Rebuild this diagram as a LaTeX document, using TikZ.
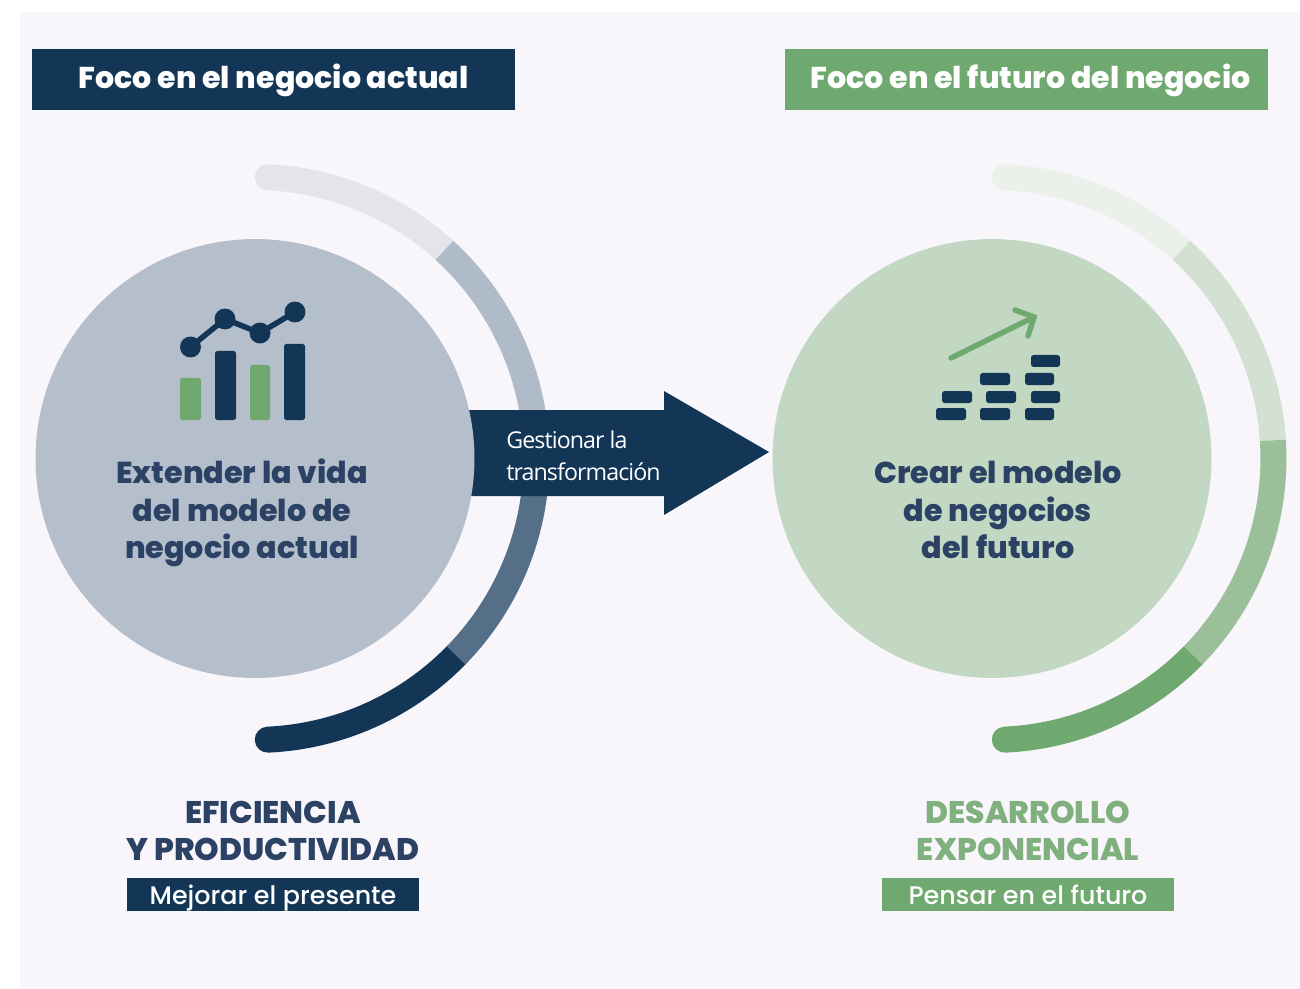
\documentclass[tikz,border=0pt]{standalone}
\usepackage{fontspec}
\setmainfont{Poppins}
\newfontfamily\opensans[LetterSpace=-4]{Open Sans}
\newfontfamily\gruesa{Poppins ExtraBold}
\newfontfamily\media{Poppins Medium}
\usepackage{tikz}
\usetikzlibrary{arrows,
                positioning}
\definecolor{navy}{HTML}{133657}
\definecolor{verde}{HTML}{70A96F}
\definecolor{fondo}{HTML}{F8F6FA}
\definecolor{circazul}{HTML}{B5BECB}
\definecolor{circverde}{HTML}{C3D8C2}
\definecolor{tinta}{HTML}{2B4265}
\definecolor{tintaverde}{HTML}{7FB07E}
\definecolor{azulA}{HTML}{E3E5EA}
\definecolor{azulB}{HTML}{AFBBC8}
\definecolor{azulC}{HTML}{566F88}
\definecolor{verdeA}{HTML}{EBF0EB}
\definecolor{verdeB}{HTML}{D2E1D1}
\definecolor{verdeC}{HTML}{9ABF99}

\begin{document}
\begin{tikzpicture}[x=0.02cm, y=-0.02cm]

\tikzstyle{header}=[rectangle, inner sep=0pt, minimum width=9.66cm, minimum height=1.22cm, text height=13pt, text depth=2.2pt, text=white, font=\gruesa\fontsize{17.1}{20}\selectfont]
\tikzstyle{disco}=[circle, inner sep=0pt, minimum size=8.78cm]
\tikzstyle{lema}=[align=center, font=\gruesa\fontsize{17.2}{21.3}\selectfont]
\tikzstyle{titulo}=[align=center, font=\gruesa\fontsize{17.8}{21.3}\selectfont]
\tikzstyle{etiqueta}=[rectangle, inner sep=0pt, minimum width=5.84cm, minimum height=0.66cm, text height=13pt, text depth=1.1pt, text=white, font=\media\fontsize{14.45}{16}\selectfont]
\tikzstyle{aro}=[line width=0.52cm]
\tikzstyle{arofin}=[line width=0.52cm, line cap=round]
\tikzstyle{barra}=[rounded corners=1pt]
\tikzstyle{ladrillo}=[fill=navy, rounded corners=1.5pt]

\useasboundingbox (0,0) rectangle (1300,989);
\fill[fondo] (20,12) rectangle (1300,989);

\coordinate (cI) at (255,458.5);
\coordinate (cD) at (992,458.5);

\draw[arofin, azulA] (cI) ++(87.4:5.63cm) arc[start angle=87.4, end angle=47.7, radius=5.63cm];
\draw[aro, azulB] (cI) ++(47.7:5.63cm) arc[start angle=47.7, end angle=3.7, radius=5.63cm];
\draw[arofin, navy] (cI) ++(-44.4:5.63cm) arc[start angle=-44.4, end angle=-87.4, radius=5.63cm];
\draw[aro, azulC] (cI) ++(3.7:5.63cm) arc[start angle=3.7, end angle=-44.4, radius=5.63cm];

\draw[arofin, verdeA] (cD) ++(87.4:5.63cm) arc[start angle=87.4, end angle=47.7, radius=5.63cm];
\draw[aro, verdeB] (cD) ++(47.7:5.63cm) arc[start angle=47.7, end angle=3.7, radius=5.63cm];
\draw[arofin, verde] (cD) ++(-44.4:5.63cm) arc[start angle=-44.4, end angle=-87.4, radius=5.63cm];
\draw[aro, verdeC] (cD) ++(3.7:5.63cm) arc[start angle=3.7, end angle=-44.4, radius=5.63cm];

\fill[navy] (cI |- 0,410) -- (664,410) -- (664,391) -- (769,452) -- (664,515) -- (664,496) -- (cI |- 0,496) -- cycle;

\node (discoI) [disco, fill=circazul] at (cI) {};
\node (discoD) [disco, fill=circverde] at (cD) {};

\node (focoI) [header, fill=navy] at (273.5,79.5) {Foco en el negocio actual};
\node (focoD) [header, fill=verde] at (1026.5,79.5) {\hspace*{0.16cm}Foco en el futuro del negocio};

\node (gestion) [text=white, align=left, anchor=west, inner sep=0pt, font=\opensans\fontsize{13.2}{18.2}\selectfont] at (506,456) {Gestionar la\\transformación};

\node (extender) [lema, text=tinta] at (242,513) {Extender la vida\\del modelo de\\negocio actual};
\node (crear) [lema, text=tinta] at (998,510) {Crear el modelo\\de negocios\\del futuro};

\node (eficiencia) [titulo, text=tinta] at (273,831) {EFICIENCIA\\Y PRODUCTIVIDAD};
\node (desarrollo) [titulo, text=tintaverde] at (1028,831) {DESARROLLO\\EXPONENCIAL};
\node (mejorar) [etiqueta, fill=navy] at (273,894.5) {Mejorar el presente};
\node (pensar) [etiqueta, fill=verde] at (1028,894.5) {Pensar en el futuro};

\fill[barra, verde] (180,378) rectangle (201,420);
\fill[barra, navy] (215,351) rectangle (236,420);
\fill[barra, verde] (250,365) rectangle (270,420);
\fill[barra, navy] (284,344) rectangle (305,420);
\draw[navy, line width=0.11cm] (190.5,347) -- (225,319) -- (260,333) -- (295,312);
\fill[navy] (190.5,347) circle (0.21cm);
\fill[navy] (225,319) circle (0.21cm);
\fill[navy] (260,333) circle (0.21cm);
\fill[navy] (295,312) circle (0.21cm);

\draw[verde, line width=0.11cm, line cap=round] (951,358) -- (1034,317);
\draw[verde, line width=0.11cm, line cap=round] (1015,310) -- (1034,317) -- (1028,336);
\fill[ladrillo] (936,408) rectangle (966,420);
\fill[ladrillo] (980,408) rectangle (1010,420);
\fill[ladrillo] (1025,408) rectangle (1054,420);
\fill[ladrillo] (942,391) rectangle (972,403);
\fill[ladrillo] (986,391) rectangle (1016,403);
\fill[ladrillo] (1031,391) rectangle (1060,403);
\fill[ladrillo] (980,373) rectangle (1010,385);
\fill[ladrillo] (1025,373) rectangle (1054,385);
\fill[ladrillo] (1031,355) rectangle (1060,367);

\end{tikzpicture}
\end{document}
